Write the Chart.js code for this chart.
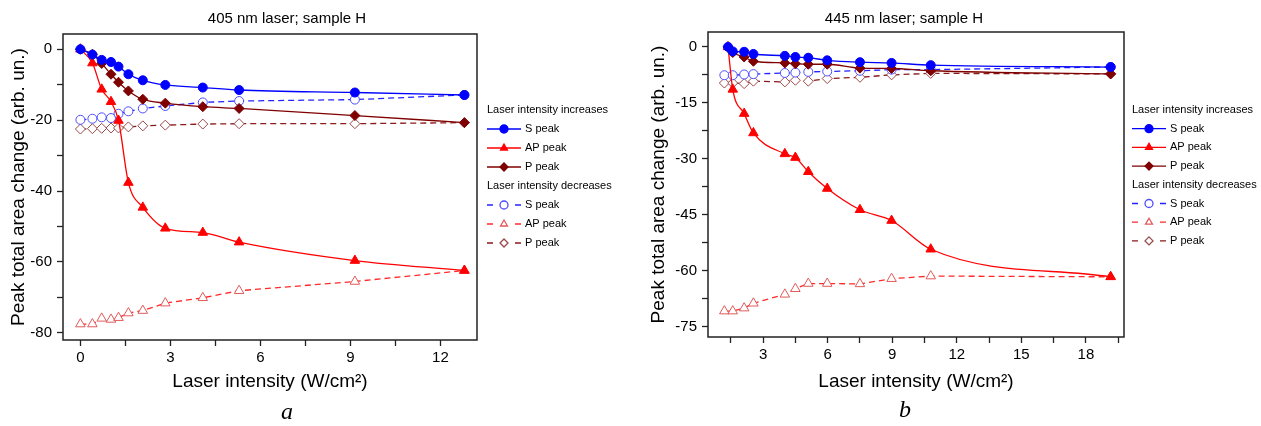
<!DOCTYPE html>
<html>
<head>
<meta charset="utf-8">
<script src="https://cdn.jsdelivr.net/npm/chart.js@4.4.1/dist/chart.umd.min.js"></script>
<style>
    body { margin: 0; background: #fff; }
    #page { position: relative; width: 1261px; height: 426px; overflow: hidden; }
    canvas { position: absolute; top: 0; }
    .sub { position: absolute; font-family: 'Liberation Serif', 'DejaVu Serif', serif; font-style: italic; font-size: 24px; line-height: 24px; }
</style>
</head>
<body>
<div id="page">
    <canvas id="chartA" width="640" height="426" style="left:0"></canvas>
    <canvas id="chartB" width="621" height="426" style="left:640px"></canvas>
    <div class="sub" style="left:281px; top:399px;">a</div>
    <div class="sub" style="left:899px; top:397px;">b</div>
</div>
<script>
// panel a: 405 nm laser
const xA = [0, 0.4, 0.71, 1.02, 1.27, 1.6, 2.08, 2.83, 4.08, 5.29, 9.15, 12.8];
const sIncA = [0, -1.5, -3.0, -3.6, -4.9, -7.05, -8.75, -10.06, -10.8, -11.5, -12.2, -12.9];
const apIncA = [0, -3.9, -11.3, -14.8, -20.1, -37.6, -44.6, -50.5, -51.7, -54.4, -59.6, -62.4];
const pIncA = [0, -1.4, -4.0, -7.05, -9.3, -11.75, -14.1, -15.2, -16.2, -16.7, -18.7, -20.7];
const sDecA = [-19.9, -19.6, -19.2, -19.4, -18.2, -17.5, -16.7, -16.0, -15.0, -14.6, -14.2, -12.9];
const apDecA = [-77.5, -77.5, -75.9, -76.2, -75.7, -74.4, -73.7, -71.6, -70.1, -68.1, -65.5, -62.4];
const pDecA = [-22.5, -22.4, -22.3, -22.2, -22.2, -21.9, -21.6, -21.4, -21.1, -21.0, -21.0, -20.7];
const xTicksA = [0, 1.5, 3, 4.5, 6, 7.5, 9, 10.5, 12];
const xLabelsA = [0, 3, 6, 9, 12];
const yTicksA = [0, -10, -20, -30, -40, -50, -60, -70, -80];
const yLabelsA = [0, -20, -40, -60, -80];

// panel b: 445 nm laser
const xIncB = [1.37, 1.59, 2.12, 2.55, 4.01, 4.5, 5.1, 5.98, 7.5, 8.97, 10.79, 19.15];
const xDecB = [1.2, 1.59, 2.12, 2.55, 4.01, 4.5, 5.1, 5.98, 7.5, 8.97, 10.79, 19.15];
const sIncB = [0, -1.2, -1.3, -1.9, -2.4, -2.7, -2.9, -3.6, -4.1, -4.3, -4.9, -5.4];
const apIncB = [0, -11.4, -17.9, -23.1, -28.7, -29.7, -33.5, -38.0, -43.7, -46.6, -54.3, -61.7];
const pIncB = [0, -1.5, -2.7, -3.85, -4.3, -4.5, -4.65, -4.65, -5.7, -5.8, -6.4, -7.25];
const sDecB = [-7.6, -7.6, -7.4, -7.3, -7.0, -6.9, -6.7, -6.6, -6.4, -6.1, -6.1, -5.4];
const apDecB = [-70.9, -70.9, -70.1, -68.8, -66.4, -64.9, -63.5, -63.5, -63.6, -62.2, -61.5, -61.7];
const pDecB = [-9.7, -9.7, -9.85, -9.2, -9.4, -8.95, -9.2, -8.5, -8.15, -7.5, -7.1, -7.25];
const xTicksB = [1.5, 3, 4.5, 6, 7.5, 9, 10.5, 12, 13.5, 15, 16.5, 18, 19.5];
const xLabelsB = [3, 6, 9, 12, 15, 18];
const yTicksB = [0, -7.5, -15, -22.5, -30, -37.5, -45, -52.5, -60, -67.5, -75];
const yLabelsB = [0, -15, -30, -45, -60, -75];

const groupNames = ['Laser intensity increases', 'Laser intensity decreases'];
const peakNames = ['S peak', 'AP peak', 'P peak'];

Chart.defaults.font.family = "'Liberation Sans', Arial, sans-serif";
Chart.defaults.color = '#000';

function points(xs, ys) {
    return xs.map(function (x, i) { return { x: x, y: ys[i] }; });
}

// filled markers, smooth solid line
function incSet(name, xs, ys, color, style, radius) {
    return {
        label: name,
        data: points(xs, ys),
        borderColor: color,
        borderWidth: 1.3,
        pointStyle: style,
        pointRadius: radius,
        pointBackgroundColor: color,
        pointBorderColor: color,
        pointBorderWidth: 1,
        cubicInterpolationMode: 'monotone',
        fill: false
    };
}

// open markers, dashed straight line
function decSet(name, xs, ys, lineColor, markColor, style, radius) {
    return {
        label: name,
        data: points(xs, ys),
        borderColor: lineColor,
        borderWidth: 1.3,
        borderDash: [6, 4],
        pointStyle: style,
        pointRadius: radius,
        pointBackgroundColor: '#fff',
        pointBorderColor: markColor,
        pointBorderWidth: 1,
        tension: 0,
        fill: false
    };
}

// frame, title and legend
const panelDecor = {
    id: 'panelDecor',
    afterDraw: function (chart, args, opts) {
        const ctx = chart.ctx;
        const a = chart.chartArea;
        ctx.save();
        ctx.strokeStyle = '#222';
        ctx.lineWidth = 1.5;
        ctx.strokeRect(a.left, a.top, a.right - a.left, a.bottom - a.top);

        ctx.fillStyle = '#000';
        ctx.font = "15px 'Liberation Sans', Arial, sans-serif";
        ctx.textAlign = 'center';
        ctx.textBaseline = 'middle';
        ctx.fillText(opts.title, opts.titleX, 19);

        // legend rows
        ctx.font = "11px 'Liberation Sans', Arial, sans-serif";
        ctx.textAlign = 'left';
        let y = opts.legendY;
        const x0 = opts.legendX;
        const w = opts.sampleW;
        chart.data.datasets.forEach(function (ds, i) {
            if (i % 3 === 0) {
                ctx.fillStyle = '#000';
                ctx.fillText(groupNames[i / 3], x0, y);
                y += opts.rowH;
            }
            ctx.strokeStyle = ds.borderColor;
            ctx.lineWidth = 1.3;
            ctx.beginPath();
            if (ds.borderDash) {
                ctx.moveTo(x0, y); ctx.lineTo(x0 + 6, y);
                ctx.moveTo(x0 + w - 6, y); ctx.lineTo(x0 + w, y);
            } else {
                ctx.moveTo(x0, y); ctx.lineTo(x0 + w, y);
            }
            ctx.stroke();
            ctx.fillStyle = ds.pointBackgroundColor;
            ctx.strokeStyle = ds.pointBorderColor;
            Chart.helpers.drawPoint(ctx, { pointStyle: ds.pointStyle, radius: 4, rotation: 0, borderWidth: 1 }, x0 + w / 2, y);
            ctx.fillStyle = '#000';
            ctx.fillText(peakNames[i % 3], x0 + w + 4, y);
            y += opts.rowH;
        });
        ctx.restore();
    }
};

function makePanel(canvasId, p) {
    const config = {
        type: 'line',
        data: { datasets: p.datasets },
        options: {
            responsive: false,
            animation: false,
            layout: {
                padding: { left: 0, top: p.top, right: p.padRight, bottom: 0 }
            },
            scales: {
                x: {
                    type: 'linear',
                    min: p.xMin,
                    max: p.xMax,
                    afterFit: function (scale) { scale.height = p.xHeight; },
                    afterBuildTicks: function (scale) {
                        scale.ticks = p.xTicks.map(function (v) { return { value: v }; });
                    },
                    ticks: {
                        autoSkip: false,
                        maxRotation: 0,
                        padding: 3,
                        font: { size: 15 },
                        callback: function (v) { return p.xLabels.indexOf(v) >= 0 ? String(v) : ''; }
                    },
                    grid: {
                        drawOnChartArea: false,
                        tickLength: 6,
                        tickColor: '#222',
                        tickWidth: 1.3
                    },
                    border: { display: false },
                    title: {
                        display: true,
                        text: 'Laser intensity (W/cm²)',
                        font: { size: 19 },
                        padding: { top: 0, bottom: 33 }
                    }
                },
                y: {
                    type: 'linear',
                    min: p.yMin,
                    max: p.yMax,
                    afterFit: function (scale) { scale.width = p.yWidth; },
                    afterBuildTicks: function (scale) {
                        scale.ticks = p.yTicks.map(function (v) { return { value: v }; });
                    },
                    ticks: {
                        autoSkip: false,
                        padding: 5,
                        font: { size: 15 },
                        callback: function (v) { return p.yLabels.indexOf(v) >= 0 ? String(v) : ''; }
                    },
                    grid: {
                        drawOnChartArea: false,
                        tickLength: 6,
                        tickColor: '#222',
                        tickWidth: 1.3
                    },
                    border: { display: false },
                    title: {
                        display: true,
                        text: 'Peak total area change (arb. un.)',
                        font: { size: 19 },
                        padding: { top: 7, bottom: 0 }
                    }
                }
            },
            plugins: {
                legend: { display: false },
                tooltip: { enabled: false },
                panelDecor: p.decor
            }
        },
        plugins: [panelDecor]
    };
    return new Chart(document.getElementById(canvasId), config);
}

const blue = '#0000ff', red = '#ff0000', wine = '#7f0000';

makePanel('chartA', {
    datasets: [
        incSet('S peak', xA, sIncA, blue, 'circle', 4.5),
        incSet('AP peak', xA, apIncA, red, 'triangle', 5.5),
        incSet('P peak', xA, pIncA, wine, 'rectRot', 5),
        decSet('S peak', xA, sDecA, '#2323ff', '#4d4dff', 'circle', 4.5),
        decSet('AP peak', xA, apDecA, '#ff2a2a', '#e05a5a', 'triangle', 5.5),
        decSet('P peak', xA, pDecA, '#8b1a1a', '#9a4a4a', 'rectRot', 5)
    ],
    xMin: -0.58, xMax: 13.22, yMin: -82, yMax: 4.3,
    xTicks: xTicksA, xLabels: xLabelsA, yTicks: yTicksA, yLabels: yLabelsA,
    top: 34, padRight: 163, yWidth: 63, xHeight: 86,
    decor: { title: '405 nm laser; sample H', titleX: 287, legendX: 487, legendY: 110, sampleW: 34, rowH: 19 }
});

makePanel('chartB', {
    datasets: [
        incSet('S peak', xIncB, sIncB, blue, 'circle', 4.5),
        incSet('AP peak', xIncB, apIncB, red, 'triangle', 5.5),
        incSet('P peak', xIncB, pIncB, wine, 'rectRot', 5),
        decSet('S peak', xDecB, sDecB, '#2323ff', '#4d4dff', 'circle', 4.5),
        decSet('AP peak', xDecB, apDecB, '#ff2a2a', '#e05a5a', 'triangle', 5.5),
        decSet('P peak', xDecB, pDecB, '#8b1a1a', '#9a4a4a', 'rectRot', 5)
    ],
    xMin: 0.44, xMax: 19.77, yMin: -77.85, yMax: 4.0,
    xTicks: xTicksB, xLabels: xLabelsB, yTicks: yTicksB, yLabels: yLabelsB,
    top: 32, padRight: 137, yWidth: 68, xHeight: 89,
    decor: { title: '445 nm laser; sample H', titleX: 264, legendX: 492, legendY: 110, sampleW: 34, rowH: 18.7 }
});
</script>
</body>
</html>
